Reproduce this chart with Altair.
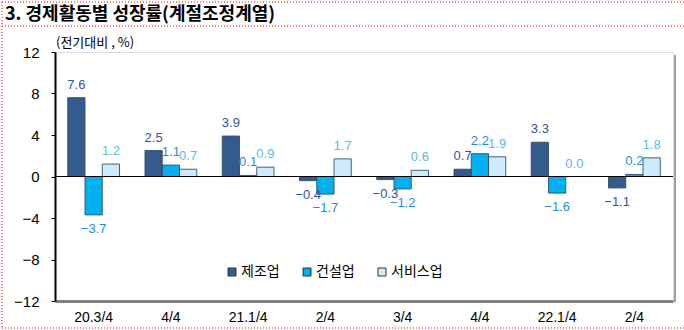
import json
import altair as alt
import pandas as pd

quarters = ["20.3/4", "20.4/4", "21.1/4", "21.2/4", "21.3/4", "21.4/4", "22.1/4", "22.2/4"]
tick_labels = ["20.3/4", "4/4", "21.1/4", "2/4", "3/4", "4/4", "22.1/4", "2/4"]
series = ["제조업", "건설업", "서비스업"]
manufacturing = [7.6, 2.5, 3.9, -0.4, -0.3, 0.7, 3.3, -1.1]
construction = [-3.7, 1.1, 0.1, -1.7, -1.2, 2.2, -1.6, 0.2]
services = [1.2, 0.7, 0.9, 1.7, 0.6, 1.9, 0.0, 1.8]
y_ticks = [-12, -8, -4, 0, 4, 8, 12]

rows = []
for s, vals in zip(series, [manufacturing, construction, services]):
    for q, v in zip(quarters, vals):
        rows.append({"q": q, "s": s, "v": v})
df = pd.DataFrame(rows)

W, H = 618, 249
KFONT = "Noto Sans CJK KR"
NFONT = "Liberation Sans"
label_expr = f"{json.dumps(tick_labels)}[indexof({json.dumps(quarters)}, datum.value)]"

x_enc = alt.X(
    "q:N", sort=quarters,
    scale=alt.Scale(paddingInner=0.33, paddingOuter=0.165),
    axis=alt.Axis(title=None, labelExpr=label_expr, labelAngle=0, ticks=False,
                  domainColor="#808080", domainWidth=3, labelFont=NFONT,
                  labelFontSize=14, labelColor="black", labelPadding=9),
)
xo_enc = alt.XOffset("s:N", sort=series, scale=alt.Scale(domain=series, paddingInner=0, paddingOuter=0))
y_enc = alt.Y(
    "v:Q", scale=alt.Scale(domain=[-12, 12], nice=False),
    axis=alt.Axis(values=y_ticks, title=None, grid=False, domainColor="black",
                  domainWidth=2, tickColor="black", tickSize=4, labelFontSize=15,
                  labelFont=NFONT, labelColor="black", labelPadding=12),
)

base = alt.Chart(df)

bars = base.mark_bar(stroke="#2B4660", strokeWidth=1, strokeOpacity=0.85).encode(
    x=x_enc, xOffset=xo_enc, y=y_enc,
    color=alt.Color(
        "s:N", sort=series,
        scale=alt.Scale(domain=series, range=["#335B8E", "#00B0F0", "#CDEBFA"]),
        legend=alt.Legend(
            title=None, orient="none", legendX=170, legendY=213, direction="horizontal",
            symbolType="square", symbolSize=64, symbolStrokeColor="#333333",
            symbolStrokeWidth=1, labelFont=KFONT, labelFontSize=14, labelColor="black",
            columnPadding=20, labelOffset=2,
        ),
    ),
)

txt_color = alt.Color(
    "s:N", sort=series,
    scale=alt.Scale(domain=series, range=["#2E5597", "#1C8EE0", "#5DBAE6"]),
    legend=None,
)

pos_labels = base.transform_filter("datum.v >= 0").mark_text(
    baseline="bottom", dy=-6, font=NFONT, fontSize=13
).encode(x=x_enc, xOffset=xo_enc, y=y_enc, text=alt.Text("v:Q", format=".1f"), color=txt_color)

neg_labels = base.transform_filter("datum.v < 0").mark_text(
    baseline="top", dy=8, font=NFONT, fontSize=13
).encode(x=x_enc, xOffset=xo_enc, y=y_enc, text=alt.Text("v:Q", format=".1f"), color=txt_color)

zero = alt.Chart(pd.DataFrame({"z": [0]})).mark_rule(color="black", strokeWidth=1).encode(y="z:Q")

right_shadow = alt.Chart(pd.DataFrame({"a": [0]})).mark_rule(color="#A0A0A0", strokeWidth=2).encode(
    x=alt.value(W + 2), y=alt.value(3), y2=alt.value(H + 1)
)

title = alt.Chart(pd.DataFrame({"t": ["3. 경제활동별 성장률(계절조정계열)"]})).mark_text(
    align="left", baseline="middle", font=KFONT, fontSize=18, fontWeight="bold", color="black"
).encode(x=alt.value(-50), y=alt.value(-37), text="t:N")

unit = alt.Chart(pd.DataFrame({"t": ["(전기대비 , %)"]})).mark_text(
    align="left", baseline="middle", font=KFONT, fontSize=13, color="black"
).encode(x=alt.value(1), y=alt.value(-9), text="t:N")

dash = dict(color="#FF0000", strokeDash=[1, 2], strokeWidth=1)
frame_df = pd.DataFrame({"a": [0]})
r1 = alt.Chart(frame_df).mark_rule(**dash).encode(x=alt.value(-53), x2=alt.value(629), y=alt.value(-26))
r2 = alt.Chart(frame_df).mark_rule(**dash).encode(x=alt.value(-53), x2=alt.value(629), y=alt.value(-50))
r3 = alt.Chart(frame_df).mark_rule(**dash).encode(x=alt.value(-53), x2=alt.value(629), y=alt.value(276))
r4 = alt.Chart(frame_df).mark_rule(**dash).encode(x=alt.value(-53), y=alt.value(-50), y2=alt.value(276))

chart = alt.layer(
    bars, zero, pos_labels, neg_labels, right_shadow, title, unit, r1, r2, r3, r4
).resolve_scale(color="independent").properties(
    width=W, height=H, autosize="none",
    padding={"left": 55, "top": 52, "right": 11, "bottom": 29},
).configure_view(stroke="black", strokeWidth=1).configure(background="white")

chart.save("out.html", embed_options={"renderer": "svg", "actions": False})
